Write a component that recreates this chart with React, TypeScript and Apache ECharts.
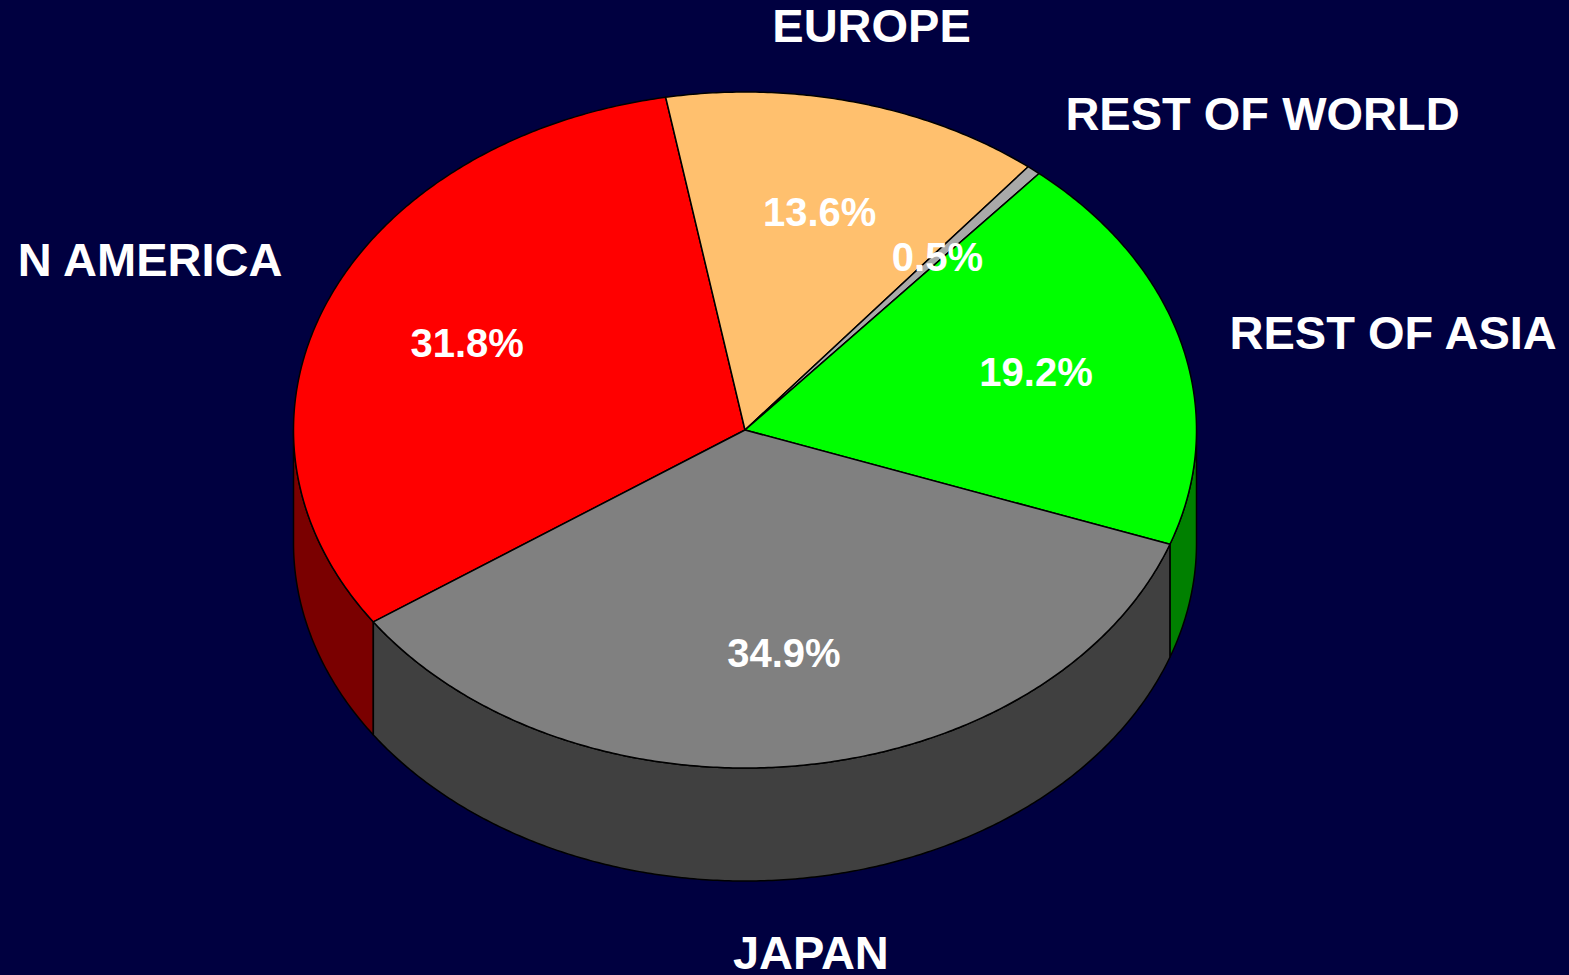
import React, { useEffect, useRef } from "react";
import * as echarts from "echarts";

const categories = ["N AMERICA", "EUROPE", "REST OF WORLD", "REST OF ASIA", "JAPAN"];
const shares = [31.8, 13.6, 0.5, 19.2, 34.9];
const topColors = ["#FF0000", "#FFC06E", "#A9A9A9", "#00FF00", "#808080"];
const sideColors = ["#7A0000", "#B08040", "#707070", "#008000", "#404040"];

const START_ANGLE = 214.6; // degrees, counter-clockwise from +x, slices run clockwise

export default function App() {
  const ref = useRef<HTMLDivElement>(null);

  useEffect(() => {
    document.body.style.margin = "0";
    const chart = echarts.init(ref.current!, undefined, { renderer: "svg" });

    const total = shares.reduce((a, b) => a + b, 0);
    const cum: number[] = [];
    let acc = 0;
    for (const v of shares) {
      cum.push(acc);
      acc += v;
    }

    const cx = 745;
    const cy = 430;
    const rx = 451.5;
    const ry = 338;
    const depth = 113;
    const rad = (d: number) => (d * Math.PI) / 180;
    const pt = (deg: number, k = 1, dy = 0) => [
      cx + rx * k * Math.cos(rad(deg)),
      cy - ry * k * Math.sin(rad(deg)) + dy,
    ];
    const arc = (from: number, to: number, dy = 0) => {
      const pts: number[][] = [];
      const n = Math.max(2, Math.ceil(Math.abs(to - from) / 0.5));
      for (let i = 0; i <= n; i++) {
        pts.push(pt(from + ((to - from) * i) / n, 1, dy));
      }
      return pts;
    };

    const renderItem = (params: any, api: any) => {
      const i = params.dataIndex;
      const v = api.value(0) as number;
      const a0 = START_ANGLE - (cum[i] / total) * 360;
      const a1 = a0 - (v / total) * 360;
      const children: any[] = [];

      // top face
      children.push({
        type: "polygon",
        z2: 10,
        shape: { points: [[cx, cy], ...arc(a0, a1)] },
        style: { fill: topColors[i], stroke: "#000", lineWidth: 1.5, lineJoin: "round" },
      });

      // visible outer side (lower half of ellipse)
      for (let k = -2; k <= 2; k++) {
        const lo = Math.max(a1, 180 + 360 * k);
        const hi = Math.min(a0, 360 + 360 * k);
        if (hi - lo > 0.01) {
          const top = arc(hi, lo);
          const bottom = arc(lo, hi, depth);
          children.push({
            type: "polygon",
            z2: 1,
            shape: { points: [...top, ...bottom] },
            style: { fill: sideColors[i], stroke: "#000", lineWidth: 1.5, lineJoin: "round" },
          });
        }
      }

      const mid = (a0 + a1) / 2;
      const c = Math.cos(rad(mid));
      const s = Math.sin(rad(mid));

      // percent label inside
      const ip = pt(mid, 2 / 3);
      children.push({
        type: "text",
        z2: 50,
        x: ip[0],
        y: ip[1],
        style: {
          text: v.toFixed(1) + "%",
          fill: "#FFFFFF",
          fontSize: 40,
          fontWeight: "bold",
          fontFamily: "Liberation Sans, Arial, sans-serif",
          align: "center",
          verticalAlign: "middle",
        },
      });

      // category label outside
      const side = c > 0.4 ? "left" : c < -0.4 ? "right" : "center";
      const edge = pt(mid, 1, s < 0 ? depth : 0);
      const ox = side === "center" ? cx + rx * 1.13 * c : cx + rx * 1.11 * c;
      const oy = edge[1] - (s > 0 ? 82 : 74) * s + 10 * c;
      children.push({
        type: "text",
        z2: 50,
        x: ox,
        y: oy,
        style: {
          text: api.value(1) as string,
          fill: "#FFFFFF",
          fontSize: 47,
          fontWeight: "bold",
          fontFamily: "Liberation Sans, Arial, sans-serif",
          align: side,
          verticalAlign: "middle",
        },
      });

      return { type: "group", children };
    };

    chart.setOption({
      animation: false,
      backgroundColor: "#000040",
      series: [
        {
          type: "custom",
          coordinateSystem: "none",
          renderItem,
          data: shares.map((v, i) => [v, categories[i]]),
          dimensions: ["value", { name: "name", type: "ordinal" }],
        },
      ],
    });

    return () => chart.dispose();
  }, []);

  return <div ref={ref} style={{ width: 1569, height: 975 }} />;
}
